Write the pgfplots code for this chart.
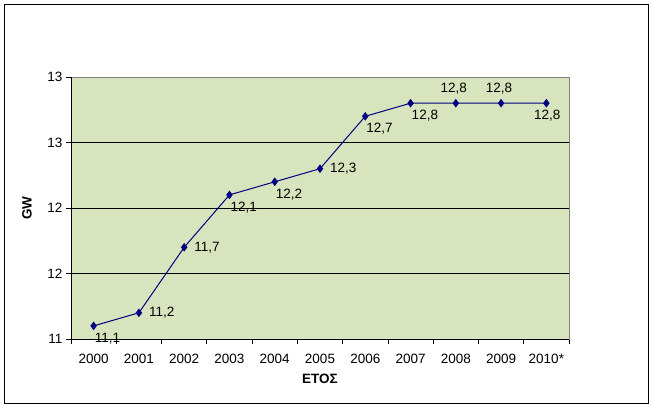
\documentclass[border=0pt]{standalone}
\usepackage{fontspec}
\setmainfont{Liberation Sans}
\usepackage{pgfplots}
\pgfplotsset{compat=1.18}
\usepackage{pgfplotstable}
\definecolor{plotbg}{RGB}{215,228,189}
\definecolor{navyline}{RGB}{0,0,128}
\newcommand\fs{\fontsize{13.5bp}{16bp}\selectfont}
\pgfplotstableread{
x y
0 11.1
1 11.2
2 11.7
3 12.1
4 12.2
5 12.3
6 12.7
7 12.8
8 12.8
9 12.8
10 12.8
}\datatable
\pgfplotstableread{
x y
0 11.1
3 12.1
4 12.2
6 12.7
7 12.8
}\grpA
\pgfplotstableread{
x y
1 11.2
2 11.7
5 12.3
}\grpB
\pgfplotstableread{
x y
8 12.8
9 12.8
}\grpC
\pgfplotstableread{
x y
10 12.8
}\grpD
\begin{document}
\begin{tikzpicture}
\useasboundingbox (-71bp,-70bp) rectangle (585bp,339bp);
\fill[white] (-71bp,-70bp) rectangle (585bp,339bp);
\draw[black, line width=1bp] (-66bp,-64bp) rectangle (577bp,334bp);
\begin{axis}[
  scale only axis, width=498bp, height=262bp,
  xmin=-0.5, xmax=10.5, ymin=11, ymax=13,
  xtick={-0.5,0.5,...,10.5}, x tick label as interval,
  xticklabels={2000,2001,2002,2003,2004,2005,2006,2007,2008,2009,2010*},
  xticklabel shift=7bp,
  ytick={11,11.5,12,12.5,13}, yticklabels={11,12,12,13,13},
  tick pos=left, tick align=outside, major tick length=5bp,
  tick style={black, line width=0.8bp},
  ymajorgrids, major grid style={black, line width=0.8bp},
  axis line style={draw=gray, line width=0.8bp},
  axis background/.style={fill=plotbg},
  ticklabel style={font=\fs, text=black},
  /pgf/number format/.cd, use comma, fixed, fixed zerofill, precision=1, assume math mode=true,
  /pgfplots/.cd,
  xlabel={\textbf{ΕΤΟΣ}}, ylabel={\textbf{GW}},
  label style={font=\fs},
  xlabel style={at={(axis description cs:0.5,-0.1527)}, anchor=center},
  ylabel style={at={(axis description cs:-0.0884,0.5)}, anchor=center},
  clip=false,
]
\draw[black, line width=0.8bp] (rel axis cs:0,0) -- (rel axis cs:1,0);
\draw[black, line width=0.8bp] (rel axis cs:0,0) -- (rel axis cs:0,1);
\addplot[navyline, line width=1bp, mark=diamond*, mark size=3.5bp,
  mark options={fill=navyline, draw=navyline}] table {\datatable};
\addplot[draw=none, mark=none, forget plot, nodes near coords, point meta=y,
  every node near coord/.append style={anchor=north west, inner sep=0pt, xshift=1bp, yshift=-7bp, font=\fs, text=black}] table {\grpA};
\addplot[draw=none, mark=none, forget plot, nodes near coords, point meta=y,
  every node near coord/.append style={anchor=west, inner sep=0pt, xshift=10bp, yshift=0bp, font=\fs, text=black}] table {\grpB};
\addplot[draw=none, mark=none, forget plot, nodes near coords, point meta=y,
  every node near coord/.append style={anchor=south, inner sep=0pt, xshift=-2bp, yshift=9bp, font=\fs, text=black}] table {\grpC};
\addplot[draw=none, mark=none, forget plot, nodes near coords, point meta=y,
  every node near coord/.append style={anchor=north, inner sep=0pt, xshift=1bp, yshift=-7bp, font=\fs, text=black}] table {\grpD};
\end{axis}
\end{tikzpicture}
\end{document}
